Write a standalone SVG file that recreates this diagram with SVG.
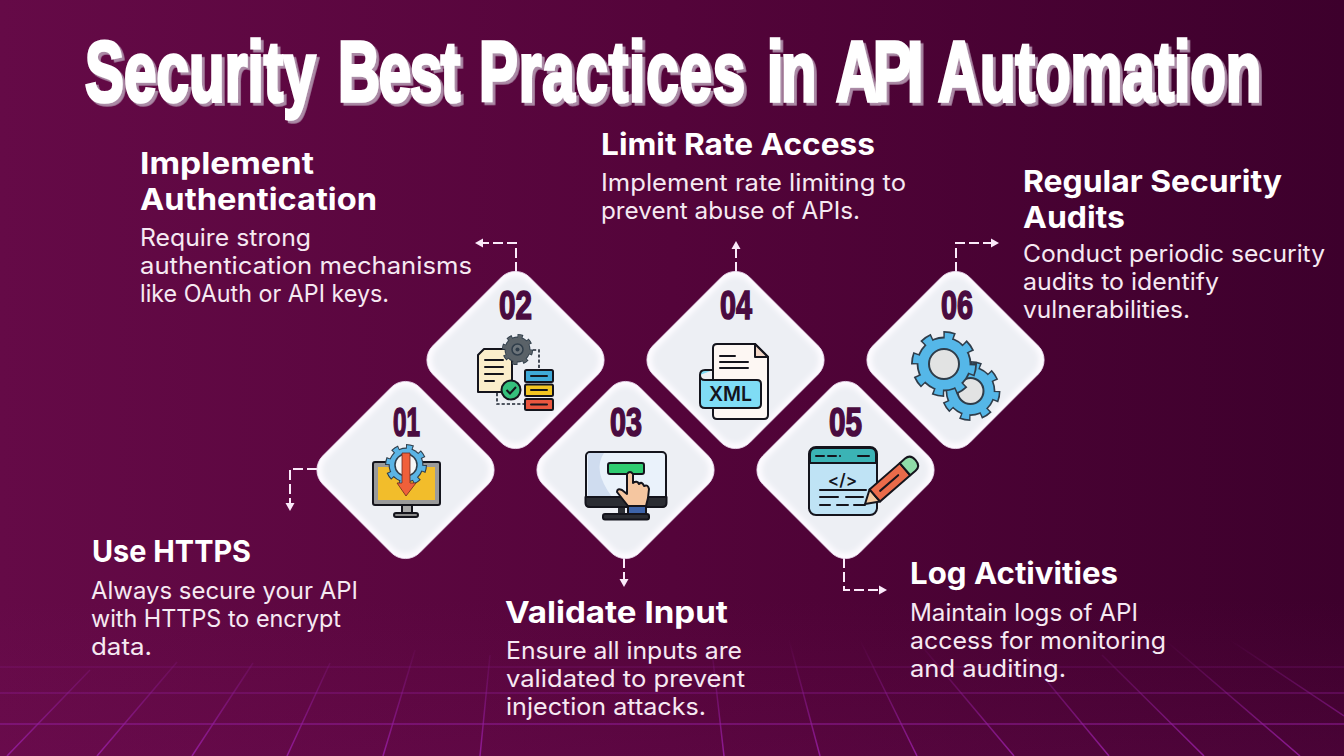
<svg xmlns="http://www.w3.org/2000/svg" xmlns:xlink="http://www.w3.org/1999/xlink" width="1344" height="756" viewBox="0 0 1344 756">
<style>
.title{font-family:"Liberation Sans Narrow","Liberation Sans",sans-serif;font-weight:700;font-size:85px;fill:#fff;stroke:#fff;stroke-width:3.6px}
.num{font-family:"Liberation Sans Narrow","Liberation Sans",sans-serif;font-weight:700;font-size:40px;fill:#4a0b3f;stroke:#4a0b3f;stroke-width:1.6px;text-anchor:start}
.h{font-family:Inter,"Noto Sans",sans-serif;font-weight:700;font-size:30px;fill:#fff}
.b{font-family:Inter,"Noto Sans",sans-serif;font-weight:400;font-size:24px;fill:#f6e9f2}
.c{fill:none;stroke:#fbeafa;stroke-width:2;stroke-dasharray:10 4;marker-end:url(#arrow)}
.g{fill:none;stroke:url(#gridFade);stroke-width:1.5}
.d{stroke:#14141c;stroke-width:2;stroke-linejoin:round}
.l{fill:none;stroke:#14141c;stroke-width:2;stroke-linecap:round}
.k{fill:none;stroke:#1c2430;stroke-width:1.6;stroke-dasharray:3.2 2}
</style>
<defs>
<linearGradient id="bg" x1="0" y1="0" x2="1" y2="0"><stop offset="0" stop-color="#650a47"/><stop offset=".5" stop-color="#54043a"/><stop offset="1" stop-color="#3d002c"/></linearGradient>
<linearGradient id="floor" x1="0" y1="0" x2="0" y2="1"><stop offset="0" stop-color="#7a1060" stop-opacity="0"/><stop offset="1" stop-color="#7a1060" stop-opacity=".2"/></linearGradient>
<linearGradient id="gridFade" gradientUnits="userSpaceOnUse" x1="0" y1="640" x2="0" y2="756"><stop offset="0" stop-color="#8a1a92" stop-opacity="0"/><stop offset=".3" stop-color="#8a1a92" stop-opacity=".32"/><stop offset="1" stop-color="#9a1ea6" stop-opacity=".85"/></linearGradient>
<filter id="ts" filterUnits="userSpaceOnUse" x="60" y="20" width="1240" height="110"><feDropShadow dx="2.8" dy="2.8" stdDeviation="0.3" flood-color="#ab8aa6"/></filter>
<filter id="blur" x="-20%" y="-20%" width="140%" height="140%"><feGaussianBlur stdDeviation="2.500"/></filter>
<marker id="arrow" markerUnits="userSpaceOnUse" markerWidth="10" markerHeight="10" refX="2" refY="5" orient="auto"><path d="M0 .5L8 5L0 9.5z" fill="#fbeafa"/></marker>
<g id="tile">
<rect x="-68.5" y="-68.5" width="137" height="137" rx="20" transform="rotate(45)" fill="#fdfbff" stroke="#ecdcf0" stroke-width=".8"/>
<rect x="-64" y="-64" width="128" height="128" rx="17" transform="rotate(45)" fill="#edeff4" filter="url(#blur)"/>
</g>
<g id="gear">
<circle r="16.6" fill="#2f3d4a"/>
<circle r="17" fill="none" stroke="#2f3d4a" stroke-width="6" pathLength="16" stroke-dasharray="1 1"/>
<circle r="16.8" fill="none" stroke="currentColor" stroke-width="4.2" pathLength="16" stroke-dasharray=".74 1.26" stroke-dashoffset="-.13"/>
<circle r="15.5" fill="currentColor"/>
</g>
</defs>

<rect id="background" width="1344" height="756" fill="url(#bg)"/>
<rect y="600" width="1344" height="156" fill="url(#floor)"/>
<g id="grid">
<path class="g" d="M0 667H1344M0 693H1344M0 724H1344" />
<path class="g" d="M7 756L90 670M97 756L177 662M192 756L253 663M287 756L330 663M383 756L415 650M480 756L490 655M724 756L713 660M820 756L789 640M917 756L860 640M1014 756L925 650M1109 756L1027 657M1204 756L1102 655M1300 756L1165 640M1344 716L1230 640"/>
</g>

<g filter="url(#ts)">
<text class="title" transform="translate(85 101) scale(.685 1)"><tspan x="0" letter-spacing=".2">Security</tspan> <tspan x="369.300" letter-spacing="-1.9">Best</tspan> <tspan x="575.200" letter-spacing="1.3">Practices</tspan> <tspan x="995.600" letter-spacing="-3.5">in</tspan> <tspan x="1096.400" letter-spacing="-7.3">API</tspan> <tspan x="1245.300">Automation</tspan></text>
</g>

<g id="connectors">
<path class="c" d="M317 469H290V505"/>
<path class="c" d="M516 272V243H481"/>
<path class="c" d="M624 558V581"/>
<path class="c" d="M736 272V247"/>
<path class="c" d="M844 558V590H881"/>
<path class="c" d="M956 272V243H993"/>
</g>

<g id="node-01">
<use href="#tile" x="405.5" y="470"/>
<text class="num" x="393" y="436" textLength="27" lengthAdjust="spacingAndGlyphs">01</text>
<rect x="373" y="462" width="67" height="43" rx="2" fill="#9a9a9a" class="d"/>
<rect x="378" y="467" width="57" height="33" fill="#f2bd2b"/>
<rect x="402" y="505" width="10" height="8" fill="#a9a9a9" class="d"/>
<rect x="394" y="513" width="24" height="4" rx="2" fill="#8a8a8a" class="d"/>
<use href="#gear" transform="translate(406 465) scale(1.05)" color="#5bb4e5"/>
<circle cx="406" cy="465" r="11" fill="#f7f7f7" stroke="#2f3d4a" stroke-width="1.5"/>
<path d="M402 453H410V483H416L406 496L397 483H402Z" fill="#f0603a" stroke="#6b2a20" stroke-width=".8"/>
</g>

<g id="node-02">
<use href="#tile" x="515.5" y="360"/>
<text class="num" x="499" y="319" textLength="33" lengthAdjust="spacingAndGlyphs">02</text>
<path class="d" d="M484 349H512V392H478V355Z" fill="#fbeecb"/>
<path class="l" d="M485 360H503M485 367H503M485 374H503M485 381H494"/>
<path class="k" d="M533 350H539V370M497 393V404H525"/>
<use href="#gear" transform="translate(517.5 349.5) scale(.78)" color="#5a6268"/>
<circle cx="517.5" cy="349.5" r="5.5" fill="#6d757b" stroke="#2f3d4a" stroke-width="1.5"/>
<circle cx="517.5" cy="349.5" r="2" fill="#2f3d4a"/>
<circle cx="511" cy="390" r="9.5" fill="#35c07c" class="d"/>
<path d="M506.5 390L510 393.5L516 387" fill="none" stroke="#14141c" stroke-width="2"/>
<rect x="525" y="370" width="28" height="12" rx="1.5" fill="#3fa9d8" class="d"/>
<rect x="525" y="384.500" width="28" height="11.500" rx="1.5" fill="#f2c522" class="d"/>
<rect x="525" y="399" width="28" height="11" rx="1.5" fill="#e8563f" class="d"/>
<path class="l" d="M531 376H547M531 390H547M531 404.500H547"/>
</g>

<g id="node-03">
<use href="#tile" x="625.500" y="470"/>
<text class="num" x="610" y="436" textLength="32" lengthAdjust="spacingAndGlyphs">03</text>
<rect x="618" y="506" width="7" height="9" fill="#2b2d33"/>
<rect x="586" y="452" width="80" height="55" rx="4" fill="#eaf2fb" class="d"/>
<path d="M588 497V455Q588 453 590 453H604Q592 470 612 497Z" fill="#cfdcef"/>
<path d="M585.500 497H666.500V503Q666.500 507 662 507H590Q585.500 507 585.500 503Z" fill="#2b2d33" class="d"/>
<rect x="608" y="463" width="36" height="11" rx="2" fill="#2ecc71" class="d"/>
<rect x="628" y="505" width="18" height="9" fill="#3d63a8" class="d"/>
<rect x="603" y="514" width="46" height="5.500" rx="2" fill="#2b2d33" class="d"/>
<path d="M628 506L617 492Q617 488 622 490L627 494V474Q630 470 633 474V483Q637 480 639 484Q642 481 644 486Q648 484 649 489L648 498L646 506Z" fill="#f5c6a0" class="d"/>
</g>

<g id="node-04">
<use href="#tile" x="735.500" y="360"/>
<text class="num" x="720" y="319" textLength="32" lengthAdjust="spacingAndGlyphs">04</text>
<path class="d" d="M717 344H755L768 357V415Q768 419 764 419H717Q713 419 713 415V348Q713 344 717 344Z" fill="#fdf7f3" stroke-width="2.400"/>
<path class="d" d="M755 344L768 357H755Z" fill="#f3d8c8"/>
<path class="l" d="M720 356H735M720 362H748M720 368H748"/>
<path class="d" d="M713 370H705Q700 370 700 375V403Q700 408 705 408H757Q761 408 761 404V384Q761 380 757 380H705Q700 380 700 375" fill="#7fdcf5"/>
<text x="730.500" y="401" textLength="43" lengthAdjust="spacingAndGlyphs" text-anchor="middle" font-family="Inter,'Noto Sans',sans-serif" font-weight="600" font-size="20" fill="#14141c">XML</text>
</g>

<g id="node-05">
<use href="#tile" x="845.500" y="470"/>
<text class="num" x="829" y="436" textLength="33" lengthAdjust="spacingAndGlyphs">05</text>
<rect x="809" y="447" width="68" height="68" rx="7" fill="#bfe3f5" class="d"/>
<path d="M810 463V454Q810 448 816 448H870Q876 448 876 454V463Z" fill="#3bb3b5" class="d"/>
<path class="l" d="M816 456H824M828 456H836M840 456H840M858 456H869"/>
<text x="842.500" y="486" text-anchor="middle" font-family="Inter,'Noto Sans',sans-serif" font-weight="600" font-size="17" fill="#14141c">&lt;/&gt;</text>
<path class="l" d="M820 490H866M820 497H838M846 497H863M820 505H830M837 505H848M854 505H865"/>
<g transform="translate(865 504) rotate(-41)">
<path d="M0 0L13 -8V8Z" fill="#f3c9a0" class="d"/>
<rect x="13" y="-8" width="40" height="16" fill="#ea6b4a" class="d"/>
<path d="M53 -8H60Q67 -8 67 0Q67 8 60 8H53Z" fill="#8fdca8" class="d"/>
<path class="l" d="M20 0H44"/>
</g>
</g>

<g id="node-06">
<use href="#tile" x="955.500" y="360"/>
<text class="num" x="941" y="319" textLength="32" lengthAdjust="spacingAndGlyphs">06</text>
<use href="#gear" transform="translate(970.500 391) scale(1.5)" color="#55b7e8"/>
<circle cx="970.500" cy="391" r="13" fill="#e2e3e3" stroke="#2f3d4a" stroke-width="2"/>
<use href="#gear" transform="translate(944 364) scale(1.65)" color="#55b7e8"/>
<circle cx="944" cy="364" r="15" fill="#e2e3e3" stroke="#2f3d4a" stroke-width="2"/>
</g>

<g id="label-01">
<text class="h" x="92" y="562" textLength="159" lengthAdjust="spacingAndGlyphs">Use HTTPS</text>
<text class="b" x="91" y="599" textLength="267" lengthAdjust="spacingAndGlyphs">Always secure your API</text>
<text class="b" x="91" y="627" textLength="250" lengthAdjust="spacingAndGlyphs">with HTTPS to encrypt</text>
<text class="b" x="91" y="655" textLength="61" lengthAdjust="spacingAndGlyphs">data.</text>
</g>
<g id="label-02">
<text class="h" x="140" y="174" textLength="174" lengthAdjust="spacingAndGlyphs">Implement</text>
<text class="h" x="140" y="210" textLength="237" lengthAdjust="spacingAndGlyphs">Authentication</text>
<text class="b" x="140" y="246" textLength="171" lengthAdjust="spacingAndGlyphs">Require strong</text>
<text class="b" x="140" y="274" textLength="332" lengthAdjust="spacingAndGlyphs">authentication mechanisms</text>
<text class="b" x="140" y="302" textLength="249" lengthAdjust="spacingAndGlyphs">like OAuth or API keys.</text>
</g>
<g id="label-03">
<text class="h" x="505" y="623" textLength="223" lengthAdjust="spacingAndGlyphs">Validate Input</text>
<text class="b" x="506" y="659" textLength="236" lengthAdjust="spacingAndGlyphs">Ensure all inputs are</text>
<text class="b" x="506" y="687" textLength="239" lengthAdjust="spacingAndGlyphs">validated to prevent</text>
<text class="b" x="506" y="715" textLength="200" lengthAdjust="spacingAndGlyphs">injection attacks.</text>
</g>
<g id="label-04">
<text class="h" x="601" y="155" textLength="274" lengthAdjust="spacingAndGlyphs">Limit Rate Access</text>
<text class="b" x="601" y="191" textLength="305" lengthAdjust="spacingAndGlyphs">Implement rate limiting to</text>
<text class="b" x="601" y="219" textLength="259" lengthAdjust="spacingAndGlyphs">prevent abuse of APIs.</text>
</g>
<g id="label-05">
<text class="h" x="910" y="584" textLength="208" lengthAdjust="spacingAndGlyphs">Log Activities</text>
<text class="b" x="910" y="621" textLength="228" lengthAdjust="spacingAndGlyphs">Maintain logs of API</text>
<text class="b" x="910" y="649" textLength="256" lengthAdjust="spacingAndGlyphs">access for monitoring</text>
<text class="b" x="910" y="677" textLength="156" lengthAdjust="spacingAndGlyphs">and auditing.</text>
</g>
<g id="label-06">
<text class="h" x="1023" y="192" textLength="259" lengthAdjust="spacingAndGlyphs">Regular Security</text>
<text class="h" x="1023" y="228" textLength="102" lengthAdjust="spacingAndGlyphs">Audits</text>
<text class="b" x="1023" y="262" textLength="302" lengthAdjust="spacingAndGlyphs">Conduct periodic security</text>
<text class="b" x="1023" y="290" textLength="196" lengthAdjust="spacingAndGlyphs">audits to identify</text>
<text class="b" x="1023" y="318" textLength="167" lengthAdjust="spacingAndGlyphs">vulnerabilities.</text>
</g>
</svg>
